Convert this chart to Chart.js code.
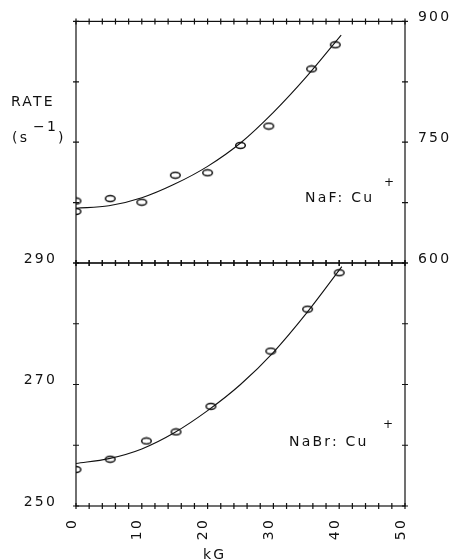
<!DOCTYPE html>
<html>
<head>
<meta charset="utf-8">
<script src="https://cdn.jsdelivr.net/npm/chart.js@4/dist/chart.umd.min.js"></script>
<style>
  html, body { margin: 0; padding: 0; background: #fff; }
  #wrap { position: relative; width: 454px; height: 560px; }
  canvas { position: absolute; left: 0; top: 0; }
</style>
</head>
<body>
<div id="wrap">
  <canvas id="top" width="454" height="560"></canvas>
  <canvas id="bot" width="454" height="560"></canvas>
</div>
<script>
// ---------- DATA ----------
// NaF:Cu+ (upper panel, right axis)
const nafX = [0, 0, 5.2, 10, 15.1, 20, 25, 29.3, 35.8, 39.4];
const nafRate = [677, 664, 680, 675.5, 709, 712, 746, 770, 841, 871];
const nafFitX = [0, 5, 10, 15, 20, 25, 30, 35, 40.3];
const nafFit = [668, 671, 681, 698, 720, 749, 787, 831, 883];

// NaBr:Cu+ (lower panel, left axis)
const nabrX = [0, 5.2, 10.7, 15.2, 20.5, 29.6, 35.2, 40.0];
const nabrRate = [256.0, 257.7, 260.7, 262.2, 266.4, 275.5, 282.4, 288.4];
const nabrFitX = [0, 5, 10, 15, 20, 25, 30, 35, 40.4];
const nabrFit = [257.0, 257.8, 259.4, 262.1, 265.7, 270.0, 275.3, 281.7, 289.4];

// ticks
const nafTicks = [600, 675, 750, 825, 900];
const nabrTicks = [250, 260, 270, 280, 290];
const xLabels = [0, 10, 20, 30, 40, 50];

const INK = "#111";
const FONT = "14px 'DejaVu Sans'";

// ---------- MARKER ----------
function ellipseMarker() {
  const c = document.createElement("canvas");
  c.width = 13; c.height = 9;
  const g = c.getContext("2d");
  g.strokeStyle = INK;
  g.lineWidth = 1.5;
  g.beginPath();
  g.ellipse(6.5, 4.5, 4.8, 3.0, 0, 0, Math.PI * 2);
  g.stroke();
  return c;
}
const marker = ellipseMarker();

// ---------- FRAME + NOTES PLUGIN ----------
const frame = {
  id: "frame",
  beforeDraw(chart) {
    chart.ctx.letterSpacing = "2.2px";
  },
  afterDraw(chart, args, opts) {
    const { ctx, chartArea: a, scales } = chart;
    const x = scales.x, y = scales[opts.yId];
    ctx.save();
    ctx.strokeStyle = INK;
    ctx.lineWidth = 1.2;
    ctx.strokeRect(a.left, a.top, a.right - a.left, a.bottom - a.top);
    ctx.beginPath();
    for (let v = 0; v <= 50; v += 2) {
      const px = x.getPixelForValue(v);
      ctx.moveTo(px, a.top - 3); ctx.lineTo(px, a.top + 3);
      ctx.moveTo(px, a.bottom - 3); ctx.lineTo(px, a.bottom + 3);
    }
    for (const v of opts.yTicks) {
      const py = y.getPixelForValue(v);
      ctx.moveTo(a.left - 3, py); ctx.lineTo(a.left + 3, py);
      ctx.moveTo(a.right - 3, py); ctx.lineTo(a.right + 3, py);
    }
    ctx.stroke();

    ctx.fillStyle = INK;
    ctx.textBaseline = "alphabetic";
    ctx.textAlign = "left";
    for (const n of opts.notes) {
      ctx.font = n.small ? "12px 'DejaVu Sans'" : FONT;
      ctx.fillText(n.text, n.x, n.y);
    }
    ctx.restore();
  }
};

function curve(xs, ys, axis) {
  return {
    data: xs.map((v, i) => ({ x: v, y: ys[i] })),
    yAxisID: axis,
    showLine: true,
    pointRadius: 0,
    borderColor: INK,
    borderWidth: 1.1,
    cubicInterpolationMode: "monotone"
  };
}
function points(xs, ys, axis) {
  return {
    data: xs.map((v, i) => ({ x: v, y: ys[i] })),
    yAxisID: axis,
    showLine: false,
    pointStyle: marker,
    pointRadius: 4
  };
}

const tickFont = { family: "DejaVu Sans", size: 14 };

// ---------- TOP CHART ----------
new Chart(document.getElementById("top"), {
  type: "scatter",
  data: { datasets: [curve(nafFitX, nafFit, "y"), points(nafX, nafRate, "y")] },
  plugins: [frame],
  options: {
    responsive: false,
    animation: false,
    layout: { padding: { left: 76, top: 18, bottom: 297, right: 0 } },
    plugins: {
      legend: { display: false },
      tooltip: { enabled: false },
      frame: {
        yId: "y",
        yTicks: nafTicks,
        notes: [
          { text: "RATE", x: 11, y: 106 },
          { text: "(s", x: 12, y: 142 },
          { text: "\u22121", x: 33, y: 131 },
          { text: ")", x: 58, y: 142 },
          { text: "NaF: Cu", x: 305, y: 202 },
          { text: "+", x: 384, y: 186, small: true }
        ]
      }
    },
    scales: {
      x: { type: "linear", min: 0, max: 50, display: false },
      y: {
        position: "right",
        min: 600, max: 900,
        afterFit: (s) => { s.width = 49; },
        grid: { display: false, drawTicks: false },
        border: { display: false },
        ticks: { stepSize: 150, padding: 13, labelOffset: -4, color: INK, font: tickFont }
      }
    }
  }
});

// ---------- BOTTOM CHART ----------
new Chart(document.getElementById("bot"), {
  type: "scatter",
  data: { datasets: [curve(nabrFitX, nabrFit, "y"), points(nabrX, nabrRate, "y")] },
  plugins: [frame],
  options: {
    responsive: false,
    animation: false,
    layout: { padding: { left: 0, top: 263, bottom: 0, right: 49 } },
    plugins: {
      legend: { display: false },
      tooltip: { enabled: false },
      frame: {
        yId: "y",
        yTicks: nabrTicks,
        notes: [
          { text: "NaBr: Cu", x: 289, y: 446 },
          { text: "+", x: 383, y: 428, small: true },
          { text: "kG", x: 203, y: 559 }
        ]
      }
    },
    scales: {
      x: {
        type: "linear", min: 0, max: 50,
        afterBuildTicks: (s) => { s.ticks = xLabels.map(v => ({ value: v })); },
        afterCalculateLabelRotation: (s) => { s.labelRotation = 90; },
        afterFit: (s) => { s.height = 54; },
        grid: { display: false, drawTicks: false },
        border: { display: false },
        ticks: { autoSkip: false, minRotation: 90, maxRotation: 90, padding: 12, labelOffset: -4, color: INK, font: tickFont }
      },
      y: {
        position: "left",
        min: 250, max: 290,
        afterFit: (s) => { s.width = 76; },
        grid: { display: false, drawTicks: false },
        border: { display: false },
        ticks: { stepSize: 20, padding: 19, labelOffset: -4, color: INK, font: tickFont }
      }
    }
  }
});
</script>
</body>
</html>
